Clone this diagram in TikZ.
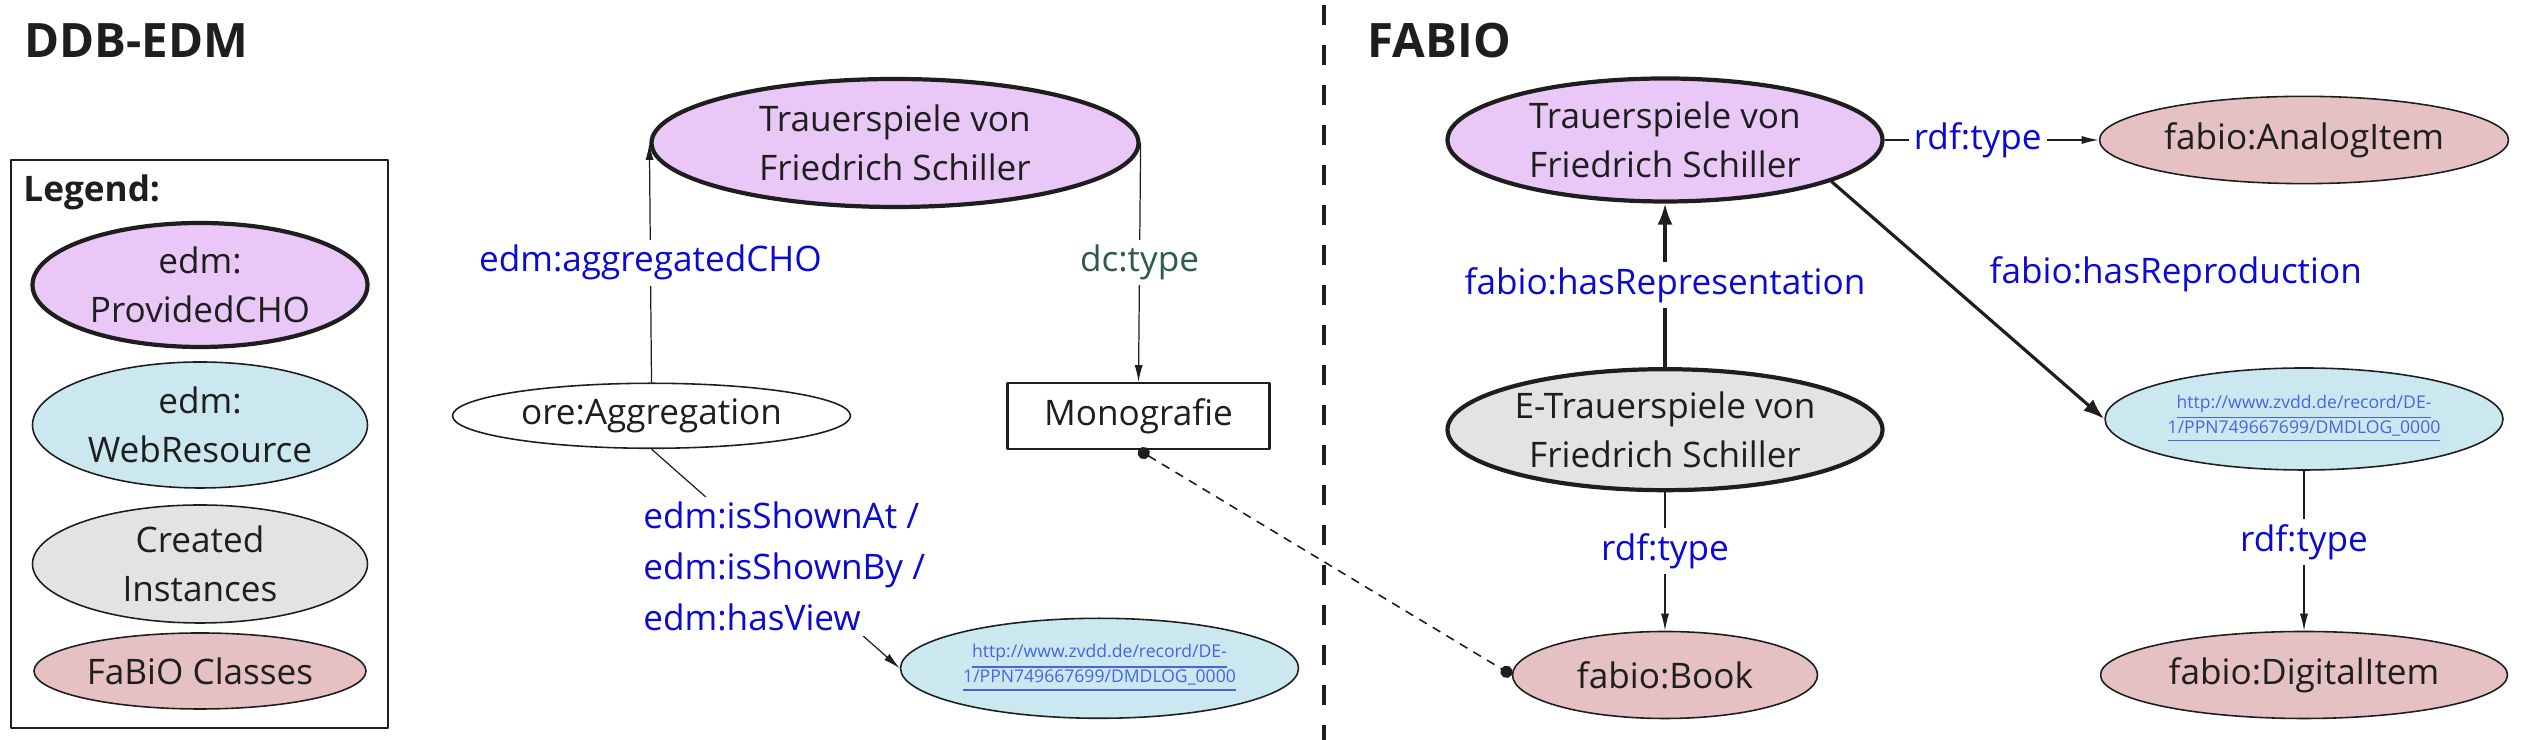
\documentclass[tikz,border=0pt]{standalone}
\usepackage{fontspec}
\setmainfont{Open Sans}
\usepackage{tikz}
\usetikzlibrary{arrows.meta,shapes.geometric,positioning}
\definecolor{chofill}{RGB}{233,200,248}
\definecolor{webfill}{RGB}{203,231,240}
\definecolor{instfill}{RGB}{227,227,227}
\definecolor{fabfill}{RGB}{229,193,196}
\definecolor{ink}{RGB}{30,30,30}
\definecolor{relblue}{RGB}{10,10,210}
\definecolor{dcgreen}{RGB}{47,90,79}
\definecolor{linkblue}{RGB}{70,100,225}
\newcommand \zvddurl{\underline{http://www.zvdd.de/record/DE-}\\\underline{1/PPN749667699/DMDLOG\_0000}}

\begin{document}
\begin{tikzpicture}[line join=round, text=ink, font=\fontsize{10}{13.8}\selectfont,
  cls/.style={ellipse, draw=ink, line width=0.45pt, inner sep=0pt, align=center},
  cho/.style={cls, line width=1.2pt, fill=chofill},
  web/.style={cls, fill=webfill},
  inst/.style={cls, fill=instfill},
  fab/.style={cls, fill=fabfill},
  link/.style={text=linkblue, font=\fontsize{5}{7}\selectfont},
  dims/.style 2 args={minimum width=#1cm, minimum height=#2cm},
  lab/.style={fill=white, text=relblue, inner sep=1.5pt},
  rel/.style={draw=ink, line width=0.35pt, -{Latex[length=1.7mm,width=0.8mm]}},
  relthick/.style={draw=ink, line width=0.9pt, -{Latex[length=2.1mm,width=1.5mm]}}]
\useasboundingbox (0,0) rectangle (25.26,7.40);
% headings and separator
\node[anchor=base west, inner sep=0pt, font=\fontsize{13.5}{16}\selectfont\bfseries] (ddbtitle) at (0.235,6.82) {DDB-EDM};
\node[anchor=base west, inner sep=0pt, font=\fontsize{13.5}{16}\selectfont\bfseries] (fabiotitle) at (13.67,6.82) {FABIO};
\draw[ink, line width=1.4pt, dash pattern=on 0.2cm off 0.2cm] (13.24,7.35) -- (13.24,0);
% legend
\draw[ink, line width=0.6pt] (0.11,0.12) rectangle (3.88,5.80);
\node[anchor=base west, inner sep=0pt, font=\bfseries] (legend) at (0.227,5.384) {Legend:};
\node[cho, dims={3.35}{1.24}] (lgcho) at (2.0,4.55) {edm:\\ProvidedCHO};
\node[web, dims={3.35}{1.26}] (lgweb) at (2.0,3.15) {edm:\\WebResource};
\node[inst, dims={3.35}{1.18}] (lginst) at (2.0,1.76) {Created\\Instances};
\node[fab, dims={3.32}{0.76}] (lgfab) at (2.0,0.69) {FaBiO Classes};
% DDB-EDM
\node[cho, dims={4.87}{1.28}] (edmcho) at (8.95,5.97) {Trauerspiele von\\Friedrich Schiller};
\node[cls, dims={3.98}{0.65}] (agg) at (6.515,3.242) {ore:Aggregation};
\node[draw=ink, line width=0.6pt, dims={2.62}{0.657}] (mono) at (11.385,3.24) {Monografie};
\node[web, link, dims={3.98}{1.0}] (urlL) at (10.995,0.717) {\zvddurl};
\draw[rel] (agg.north) -- node[lab]{edm:aggregatedCHO} (edmcho.west);
\draw[rel] (edmcho.east) -- node[lab, text=dcgreen]{dc:type} (mono.north);
\draw[rel] (agg.south) -- node[lab, pos=0.535, align=left, font=\fontsize{10}{14.4}\selectfont]{edm:isShownAt /\\edm:isShownBy /\\edm:hasView} (urlL.west);
% FABIO
\node[cho, dims={4.35}{1.23}] (fabcho) at (16.65,6.0) {Trauerspiele von\\Friedrich Schiller};
\node[fab, dims={4.09}{0.873}] (analog) at (23.04,6.0) {fabio:AnalogItem};
\node[inst, line width=1.2pt, dims={4.35}{1.21}] (etr) at (16.65,3.103) {E-Trauerspiele von\\Friedrich Schiller};
\node[web, link, dims={3.98}{1.02}] (urlR) at (23.04,3.21) {\zvddurl};
\node[fab, dims={3.05}{0.87}] (book) at (16.65,0.65) {fabio:Book};
\node[fab, dims={4.07}{0.87}] (digital) at (23.04,0.65) {fabio:DigitalItem};
\draw[rel] (fabcho.east) -- node[lab, pos=0.435]{rdf:type} (analog.west);
\draw[relthick] (etr.north) -- node[lab]{fabio:hasRepresentation} (fabcho.south);
\draw[relthick] (fabcho.-14) -- node[pos=0.39, right=4.5mm, text=relblue, inner sep=1.5pt]{fabio:hasReproduction} (urlR.west);
\draw[rel] (etr.south) -- node[lab, pos=0.423]{rdf:type} (book.north);
\draw[rel] (urlR.south) -- node[lab, pos=0.444]{rdf:type} (digital.north);
\draw[ink, line width=0.45pt, dash pattern=on 2.5pt off 2pt, {Circle[length=3.5pt]}-{Circle[length=3.5pt]}] (mono.south) -- (book.west);
\end{tikzpicture}
\end{document}
